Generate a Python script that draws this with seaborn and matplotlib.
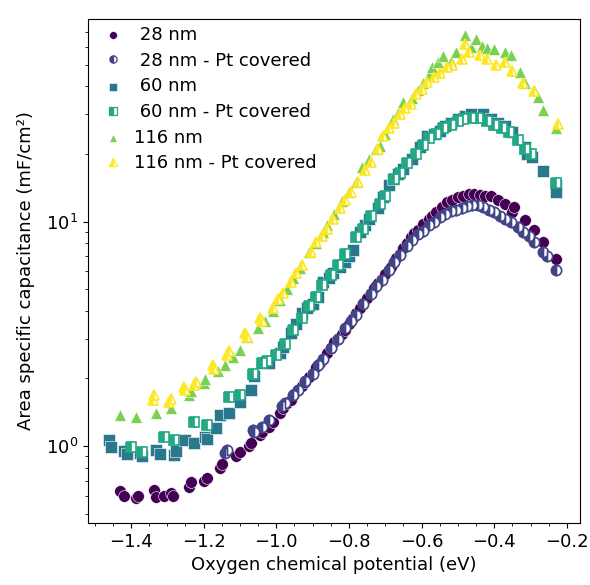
import numpy as np
import matplotlib
matplotlib.use("Agg")
import matplotlib.pyplot as plt
from matplotlib.ticker import MultipleLocator
from matplotlib.collections import PathCollection
from matplotlib.lines import Line2D
import seaborn as sns

# ---------------- data ----------------
x_28 = [-1.43, -1.42, -1.385, -1.38, -1.335, -1.33, -1.31, -1.29, -1.285, -1.24, -1.235, -1.20, -1.19,
        -1.155, -1.15, -1.11, -1.10, -1.075, -1.07, -1.045, -1.04, -1.02, -1.01, -0.99, -0.98, -0.97,
        -0.96, -0.95, -0.94, -0.93, -0.92, -0.91, -0.90, -0.89, -0.88, -0.87, -0.86, -0.85, -0.84,
        -0.83, -0.82, -0.81, -0.80, -0.79, -0.78, -0.77, -0.76, -0.75, -0.74, -0.73, -0.72, -0.71,
        -0.70, -0.685, -0.67, -0.66, -0.65, -0.64, -0.63, -0.62, -0.61, -0.595, -0.58, -0.57, -0.56,
        -0.545, -0.53, -0.515, -0.50, -0.485, -0.47, -0.455, -0.44, -0.425, -0.41, -0.39, -0.37,
        -0.35, -0.345, -0.315, -0.29, -0.265, -0.23]
y_28 = [0.63, 0.60, 0.585, 0.60, 0.64, 0.59, 0.60, 0.62, 0.60, 0.66, 0.69, 0.70, 0.72,
        0.80, 0.83, 0.90, 0.94, 1.00, 1.03, 1.12, 1.16, 1.22, 1.28, 1.40, 1.47, 1.55,
        1.60, 1.70, 1.77, 1.85, 1.93, 2.02, 2.12, 2.25, 2.35, 2.45, 2.60, 2.72, 2.90,
        3.00, 3.15, 3.30, 3.50, 3.70, 3.90, 4.10, 4.35, 4.55, 4.80, 5.05, 5.30, 5.55,
        5.85, 6.30, 6.90, 7.20, 7.60, 8.00, 8.50, 8.90, 9.20, 9.70, 10.3, 10.6, 11.0,
        11.6, 12.2, 12.5, 12.8, 13.0, 13.2, 13.3, 13.1, 13.0, 13.0, 12.5, 12.0,
        11.0, 11.6, 10.2, 9.2, 8.1, 6.8]

x_28pt = [-1.14, -1.135, -1.065, -1.06, -1.04, -1.02, -0.985, -0.975, -0.955, -0.94, -0.92, -0.90,
          -0.885, -0.87, -0.85, -0.83, -0.81, -0.795, -0.78, -0.76, -0.74, -0.725, -0.71, -0.69,
          -0.675, -0.66, -0.64, -0.625, -0.61, -0.595, -0.58, -0.565, -0.55, -0.535, -0.52, -0.505,
          -0.49, -0.475, -0.46, -0.445, -0.43, -0.415, -0.40, -0.385, -0.37, -0.355, -0.335, -0.32,
          -0.305, -0.29, -0.265, -0.255, -0.23]
y_28pt = [0.93, 0.96, 1.18, 1.15, 1.22, 1.30, 1.50, 1.55, 1.68, 1.78, 1.95, 2.10,
          2.30, 2.45, 2.72, 3.00, 3.35, 3.60, 3.85, 4.30, 4.75, 5.15, 5.50, 6.10,
          6.60, 7.10, 7.80, 8.30, 8.80, 9.10, 9.60, 10.0, 10.5, 10.8, 11.1, 11.3,
          11.5, 11.7, 11.8, 11.8, 11.6, 11.2, 11.0, 10.6, 10.3, 10.0, 9.5, 9.0,
          8.6, 8.1, 7.3, 7.0, 6.1]

x_60 = [-1.46, -1.455, -1.42, -1.41, -1.375, -1.37, -1.33, -1.32, -1.28, -1.275, -1.25, -1.225,
        -1.195, -1.19, -1.165, -1.155, -1.13, -1.10, -1.07, -1.06, -1.035, -1.02, -0.99, -0.98,
        -0.96, -0.945, -0.93, -0.915, -0.90, -0.885, -0.87, -0.855, -0.845, -0.825, -0.81, -0.80,
        -0.79, -0.77, -0.755, -0.745, -0.72, -0.705, -0.69, -0.68, -0.665, -0.65, -0.625, -0.605,
        -0.585, -0.565, -0.55, -0.535, -0.52, -0.50, -0.48, -0.465, -0.43, -0.41, -0.39, -0.37,
        -0.35, -0.315, -0.31, -0.295, -0.265, -0.23, -0.23]
y_60 = [1.06, 0.99, 0.95, 0.92, 0.93, 0.90, 0.96, 0.92, 0.91, 0.95, 1.06, 1.03,
        1.10, 1.07, 1.20, 1.38, 1.40, 1.57, 1.78, 2.05, 2.35, 2.35, 2.60, 2.75,
        3.20, 3.50, 3.90, 4.10, 4.30, 4.60, 5.40, 5.60, 5.90, 6.30, 6.60, 7.00,
        7.50, 9.00, 9.60, 10.3, 11.5, 12.9, 14.5, 15.5, 16.2, 17.2, 19.0, 21.5,
        24.0, 24.5, 25.3, 26.5, 27.6, 28.5, 29.5, 30.0, 30.0, 28.5, 27.5, 26.5,
        25.0, 21.5, 20.0, 19.3, 16.8, 14.5, 13.6]

x_60pt = [-1.40, -1.37, -1.31, -1.28, -1.225, -1.19, -1.13, -1.10, -1.065, -1.04, -1.025, -1.00,
          -0.975, -0.955, -0.93, -0.91, -0.89, -0.875, -0.85, -0.83, -0.81, -0.78, -0.76, -0.74,
          -0.715, -0.70, -0.675, -0.66, -0.64, -0.615, -0.595, -0.58, -0.56, -0.54, -0.52, -0.50,
          -0.485, -0.465, -0.445, -0.42, -0.40, -0.38, -0.36, -0.335, -0.315, -0.30, -0.23]
y_60pt = [0.99, 0.94, 1.10, 1.06, 1.28, 1.24, 1.66, 1.69, 2.10, 2.35, 2.40, 2.55,
          2.85, 3.30, 3.70, 4.20, 4.60, 5.20, 5.80, 6.40, 7.20, 8.50, 9.30, 10.6,
          12.0, 13.0, 15.5, 16.5, 18.2, 20.0, 22.0, 23.5, 24.5, 26.0, 27.0, 28.0,
          28.5, 29.0, 28.8, 28.0, 27.0, 26.0, 25.0, 23.0, 21.0, 20.0, 14.8]

x_116 = [-1.43, -1.385, -1.33, -1.29, -1.24, -1.235, -1.20, -1.195, -1.16, -1.14, -1.12, -1.10,
         -1.08, -1.05, -1.03, -1.01, -0.99, -0.97, -0.955, -0.935, -0.91, -0.89, -0.87, -0.86,
         -0.84, -0.82, -0.80, -0.78, -0.765, -0.745, -0.725, -0.715, -0.70, -0.68, -0.665, -0.65,
         -0.625, -0.61, -0.595, -0.58, -0.57, -0.555, -0.54, -0.52, -0.505, -0.48, -0.465, -0.45,
         -0.435, -0.42, -0.40, -0.37, -0.355, -0.33, -0.315, -0.29, -0.28, -0.265, -0.23]
y_116 = [1.37, 1.35, 1.40, 1.48, 1.69, 1.75, 1.91, 1.98, 2.15, 2.30, 2.50, 2.68,
         3.05, 3.36, 3.60, 4.00, 4.45, 5.00, 5.60, 6.20, 7.30, 8.00, 9.00, 9.60,
         10.8, 12.3, 13.5, 15.0, 17.5, 19.0, 21.0, 21.8, 24.5, 28.5, 30.5, 34.0,
         35.5, 38.5, 41.5, 45.0, 49.0, 51.5, 54.5, 52.0, 57.0, 68.0, 60.0, 65.0,
         60.5, 59.0, 58.5, 57.0, 55.0, 46.5, 41.5, 38.5, 36.0, 31.5, 26.0]

x_116pt = [-1.34, -1.335, -1.295, -1.29, -1.255, -1.25, -1.225, -1.22, -1.175, -1.17, -1.135, -1.13,
           -1.085, -1.08, -1.045, -1.04, -1.01, -0.995, -0.98, -0.96, -0.945, -0.93, -0.905, -0.89,
           -0.875, -0.86, -0.845, -0.825, -0.81, -0.795, -0.775, -0.755, -0.74, -0.72, -0.705, -0.69,
           -0.675, -0.66, -0.645, -0.63, -0.615, -0.60, -0.585, -0.565, -0.55, -0.53, -0.515, -0.49,
           -0.48, -0.47, -0.44, -0.42, -0.395, -0.37, -0.35, -0.32, -0.29, -0.225]
y_116pt = [1.60, 1.68, 1.57, 1.62, 1.83, 1.78, 1.87, 1.92, 2.30, 2.20, 2.55, 2.65,
           3.20, 3.05, 3.70, 3.60, 4.10, 4.50, 4.80, 5.40, 5.90, 6.40, 7.30, 8.10,
           8.60, 9.30, 10.3, 11.5, 12.5, 13.5, 15.0, 17.0, 18.5, 21.0, 24.0, 26.0,
           27.5, 30.0, 32.0, 33.5, 37.0, 39.0, 42.0, 44.0, 46.0, 49.0, 50.0, 53.0,
           61.5, 57.0, 55.0, 53.0, 50.0, 51.5, 47.0, 41.5, 38.0, 27.2]

labels = [" 28 nm", " 28 nm - Pt covered", " 60 nm", " 60 nm - Pt covered",
          "116 nm", "116 nm - Pt covered"]
x_label = "Oxygen chemical potential (eV)"
y_label = "Area specific capacitance (mF/cm²)"

# ---------------- plot ----------------
colors = [plt.cm.viridis(v) for v in np.linspace(0, 1, 6)]
plt.rcParams["font.family"] = ["DejaVu Sans"]
plt.rcParams["font.size"] = 13

fig = plt.figure(figsize=(5.9, 5.85), dpi=100)
ax = fig.add_axes([88 / 590, 1 - 523 / 585, (580 - 88) / 590, (523 - 19) / 585])

series = [
    (x_28, y_28, "o", False),
    (x_28pt, y_28pt, "o", True),
    (x_60, y_60, "s", False),
    (x_60pt, y_60pt, "s", True),
    (x_116, y_116, "^", False),
    (x_116pt, y_116pt, "^", True),
]

for i, (xs, ys, m, half) in enumerate(series):
    c = colors[i]
    if not half:
        sns.scatterplot(x=xs, y=ys, ax=ax, color=c, marker=m, s=72,
                        edgecolor="white", linewidth=0.4, label=labels[i], zorder=2 + i)
    else:
        sns.lineplot(x=xs, y=ys, ax=ax, color=c, marker=m, markersize=7.4,
                     linestyle="", estimator=None, sort=False,
                     fillstyle="left", markerfacecoloralt="white",
                     markeredgecolor=c, markeredgewidth=1.2,
                     label=labels[i], zorder=2 + i)

ax.set_yscale("log")
ax.set_xlim(-1.518, -0.164)
ax.set_ylim(0.454, 79.8)
ax.xaxis.set_major_locator(MultipleLocator(0.2))
ax.xaxis.set_minor_locator(MultipleLocator(0.05))
ax.set_xlabel(x_label, fontsize=13)
ax.set_ylabel(y_label, fontsize=13, labelpad=8)
ax.tick_params(labelsize=13)

leg = ax.legend(loc="upper left", frameon=False, fontsize=13,
                handlelength=2.0, handletextpad=0.12, borderaxespad=0.2, borderpad=0.2,
                labelspacing=0.42)
for h in leg.legend_handles:
    if isinstance(h, PathCollection):
        h.set_sizes([32])
    elif isinstance(h, Line2D):
        h.set_markersize(5.2)
        h.set_markeredgewidth(0.9)

fig.savefig("out.png", dpi=100)
